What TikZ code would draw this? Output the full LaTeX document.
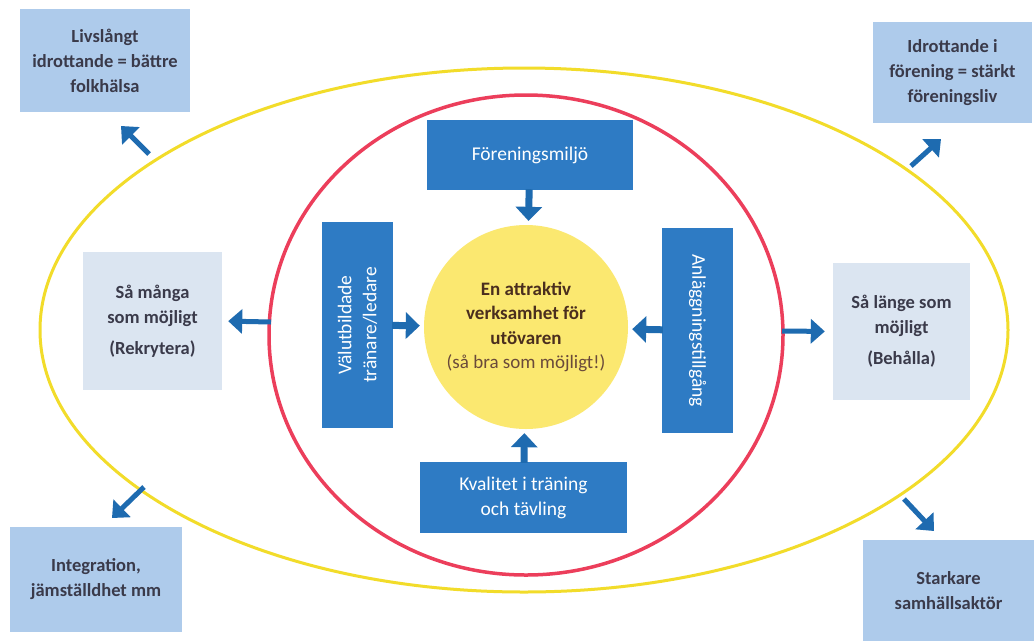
\documentclass[tikz,border=0pt]{standalone}
\usepackage{fontspec}
\setmainfont{Carlito}
\usetikzlibrary{arrows.meta,shapes.geometric}
\definecolor{boxblue}{HTML}{2E7BC4}
\definecolor{arrowblue}{HTML}{1E6BB0}
\definecolor{cornerfill}{HTML}{AECBEB}
\definecolor{midfill}{HTML}{DBE5F1}
\definecolor{sunfill}{HTML}{FBE870}
\definecolor{ellyellow}{HTML}{F2DC2A}
\definecolor{ellred}{HTML}{EC3E5B}
\definecolor{txtgray}{HTML}{3A3A4A}
\definecolor{txtbrown}{HTML}{4A2E1E}
\definecolor{txtbrownlight}{HTML}{6A4A3A}
\tikzset{
  cornerbox/.style={fill=cornerfill, draw=none, align=center, inner sep=0pt,
    text=txtgray, font=\bfseries\fontsize{18.5}{25}\selectfont},
  midbox/.style={fill=midfill, draw=none, align=center, inner sep=0pt,
    text=txtgray, font=\bfseries\fontsize{18.5}{25}\selectfont,
    minimum width=138pt, minimum height=138pt},
  bluebox/.style={fill=boxblue, draw=none, align=center, inner sep=0pt,
    text=white, font=\fontsize{19.5}{25}\selectfont},
  bigarrow/.style={draw=arrowblue, line width=7pt,
    -{Triangle[width=26pt,length=14pt]}, shorten >=4pt, shorten <=-1pt},
  outarrow/.style={draw=arrowblue, line width=5pt,
    -{Triangle[width=24pt,length=14pt]}},
}
\begin{document}
\begin{tikzpicture}[x=1pt,y=-1pt]
\useasboundingbox (0,0) rectangle (1034,641);
\fill[white] (0,0) rectangle (1034,641);

% outer ellipses
\draw[ellyellow, line width=3pt] (524,330) ellipse [x radius=484pt, y radius=262pt];
\draw[ellred, line width=3.5pt] (526,335) ellipse [x radius=257pt, y radius=240pt];

% centre
\node[circle, fill=sunfill, minimum size=204pt, inner sep=0pt, align=center,
  text=txtbrown, font=\fontsize{19}{24.5}\selectfont] (c) at (526,327)
  {\bfseries En attraktiv\\ \bfseries verksamhet för\\ \bfseries utövaren\\
   \textcolor{txtbrownlight}{(så bra som möjligt!)}};

% blue boxes
\node[bluebox, minimum width=206pt, minimum height=70pt] (fm) at (530,155) {Föreningsmiljö};
\node[bluebox, rotate=90, minimum width=206pt, minimum height=71pt] (vb) at (357.5,325)
  {Välutbildade\\ tränare/ledare};
\node[bluebox, rotate=-90, minimum width=205pt, minimum height=71pt] (an) at (697.5,330.5)
  {Anläggningstillgång};
\node[bluebox, minimum width=207pt, minimum height=71pt] (kv) at (523.5,497.5)
  {Kvalitet i träning\\ och tävling};

\draw[bigarrow] (fm) -- (c);
\draw[bigarrow] (vb) -- (c);
\draw[bigarrow] (an) -- (c);
\draw[bigarrow] (kv) -- (c);

% middle light boxes
\node[midbox, minimum width=139pt] (lm) at (152.5,321)
  {Så många\\ som möjligt\\[6pt] (Rekrytera)};
\node[midbox, minimum width=137pt, minimum height=137pt] (rm) at (901.5,331.5)
  {Så länge som\\ möjligt\\[6pt] (Behålla)};

\coordinate (lmA) at (271,322);
\coordinate (rmA) at (782,331);
\draw[outarrow, shorten >=6pt] (lmA) -- (lm.east);
\draw[outarrow, shorten >=8pt] (rmA) -- (rm.west);

% corner boxes
\node[cornerbox, minimum width=170pt, minimum height=103pt] (tl) at (105,60.5)
  {Livslångt\\ idrottande = bättre\\ folkhälsa};
\node[cornerbox, minimum width=159pt, minimum height=101pt] (tr) at (952.5,72.5)
  {Idrottande i\\ förening = stärkt\\ föreningsliv};
\node[cornerbox, minimum width=172pt, minimum height=105pt] (bl) at (96,579.5)
  {Integration,\\ jämställdhet mm};
\node[cornerbox, minimum width=171pt, minimum height=101pt] (br) at (948.5,590.5)
  {Starkare\\ samhällsaktör};

% diagonal arrows
\coordinate (tlA) at (149,154);
\coordinate (tlB) at (121,126);
\coordinate (trA) at (911,166);
\coordinate (trB) at (941,139);
\coordinate (blA) at (144,487);
\coordinate (blB) at (112,518);
\coordinate (brA) at (904,499);
\coordinate (brB) at (934,531);
\draw[outarrow] (tlA) -- (tlB);
\draw[outarrow] (trA) -- (trB);
\draw[outarrow] (blA) -- (blB);
\draw[outarrow] (brA) -- (brB);
\end{tikzpicture}
\end{document}
